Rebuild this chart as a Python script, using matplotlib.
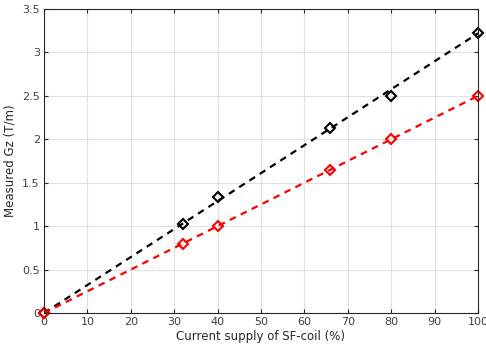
import matplotlib.pyplot as plt

# measured points
current = [0, 32, 40, 66, 80, 100]
gz_black = [0, 1.02, 1.33, 2.13, 2.50, 3.22]
gz_red = [0, 0.80, 1.00, 1.65, 2.00, 2.50]

# fitted lines (end points)
fit_x = [0, 100]
fit_black = [0, 3.22]
fit_red = [0, 2.50]

fig = plt.figure(figsize=(4.86, 3.47), dpi=100)
ax = fig.add_axes([0.0905, 0.098, 0.893, 0.876])

ax.plot(fit_x, fit_black, '--', color='black', lw=1.6, dashes=(3, 2.5))
ax.plot(fit_x, fit_red, '--', color='red', lw=1.6, dashes=(3, 2.5))
ax.plot(current, gz_black, 'D', color='black', mfc='none', ms=5, mew=1.5, clip_on=False)
ax.plot(current, gz_red, 'D', color='red', mfc='none', ms=5, mew=1.5, clip_on=False)

ax.set_xlim(0, 100)
ax.set_ylim(0, 3.5)
ax.set_xticks(range(0, 101, 10))
ax.set_yticks([0, 0.5, 1, 1.5, 2, 2.5, 3, 3.5])
ax.set_yticklabels(['0', '0.5', '1', '1.5', '2', '2.5', '3', '3.5'])
ax.grid(True, color='#e0e0e0', lw=0.8)
ax.set_axisbelow(True)
ax.tick_params(direction='in', length=3, labelsize=8, colors='#262626', labelcolor='#404040', pad=3,
               top=True, right=True)
for s in ax.spines.values():
    s.set_color('#262626')
    s.set_linewidth(0.8)

ax.set_xlabel('Current supply of SF-coil (%)', fontsize=8.5, color='#262626', labelpad=2)
ax.set_ylabel('Measured Gz (T/m)', fontsize=8.5, color='#262626', labelpad=4)

fig.savefig('out.png', dpi=100)
